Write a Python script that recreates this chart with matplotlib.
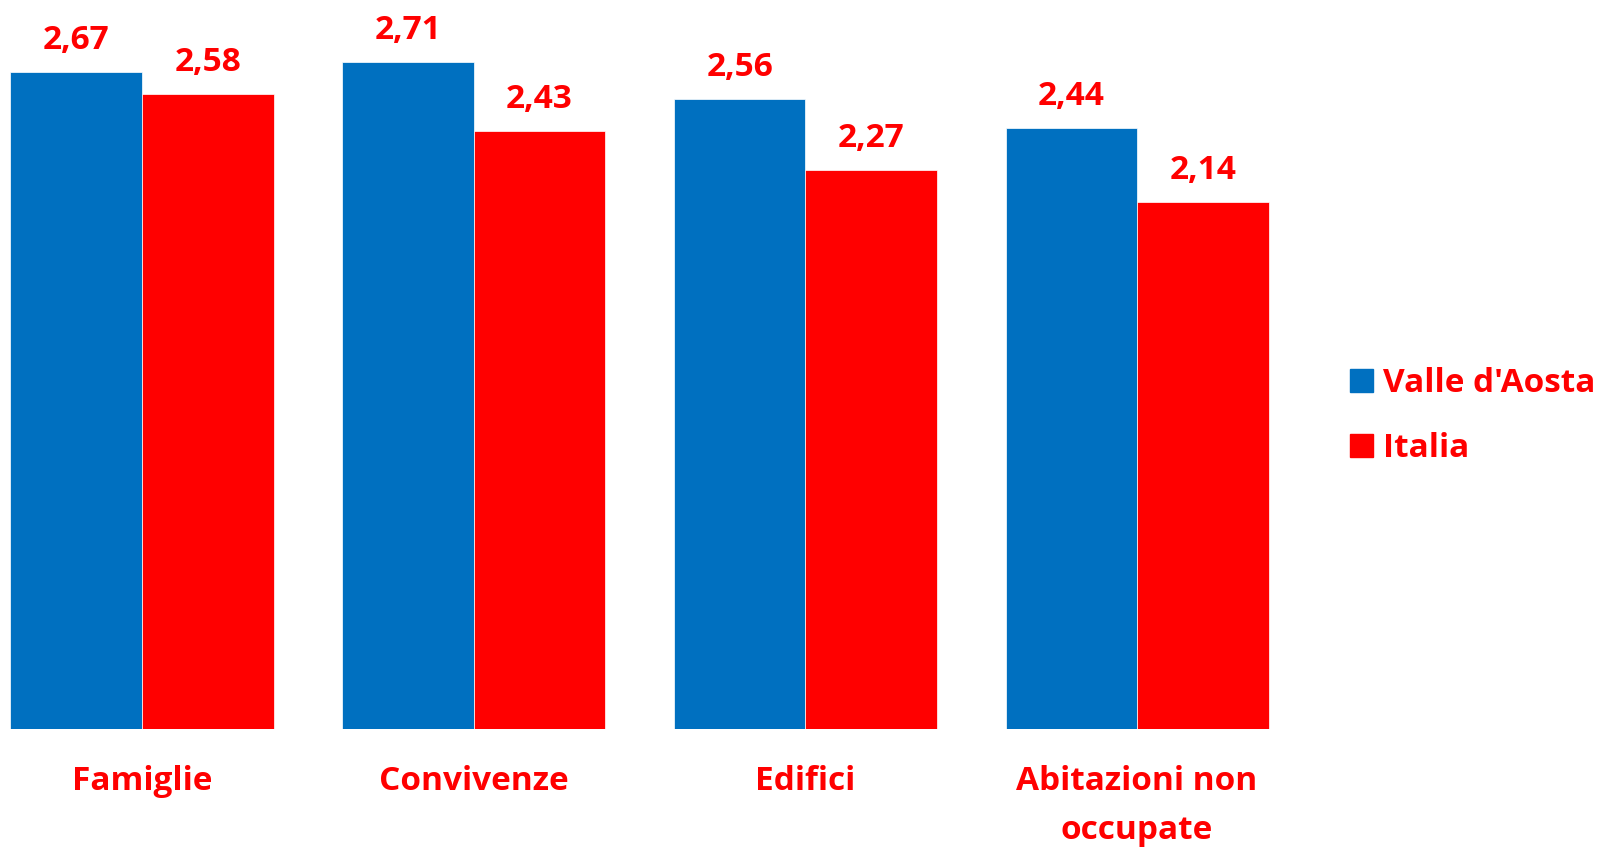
import numpy as np
import matplotlib
matplotlib.use("Agg")
from matplotlib import pyplot as plt
from matplotlib.patches import Patch

categories = ["Famiglie", "Convivenze", "Edifici", "Abitazioni non\noccupate"]
valle = [2.67, 2.71, 2.56, 2.44]
italia = [2.58, 2.43, 2.27, 2.14]
series_names = ["Valle d'Aosta", "Italia"]

blue = "#0070C0"
red = "#FF0000"

plt.rcParams['font.family'] = ['Open Sans', 'DejaVu Sans']

fig = plt.figure(figsize=(16.03, 8.48), dpi=100)
ax = fig.add_axes([0, 0.1407, 1290 / 1603, 0.8593])

x = np.arange(len(categories))
w = 0.3965
b1 = ax.bar(x - w / 2, valle, w, color=blue, edgecolor="white", linewidth=0.5)
b2 = ax.bar(x + w / 2, italia, w, color=red, edgecolor="white", linewidth=0.5)

def fmt(v):
    return "{:.2f}".format(v).replace(".", ",")

for bars, vals in [(b1, valle), (b2, italia)]:
    for rect, v in zip(bars, vals):
        ax.annotate(fmt(v), (rect.get_x() + rect.get_width() / 2, v),
                    xytext=(0, 11), textcoords="offset points",
                    ha="center", va="bottom", color=red,
                    fontsize=24, fontweight="bold")

ax.set_xlim(-142 / 331.7, (1290 - 142) / 331.7)
ax.set_ylim(0, 2.962)
ax.set_xticks(x, categories)
ax.tick_params(axis="x", length=0, pad=26, labelsize=24, labelcolor=red)
for t in ax.get_xticklabels():
    t.set_fontweight("bold")
    t.set_linespacing(1.65)
ax.set_yticks([])
for s in ax.spines.values():
    s.set_visible(False)

handles = [Patch(color=blue), Patch(color=red)]
leg = fig.legend(handles, series_names, loc="center left",
                 bbox_to_anchor=(1350 / 1603, 1 - 416 / 848),
                 frameon=False, fontsize=24, labelcolor=red,
                 handlelength=0.7, handleheight=0.7, handletextpad=0.3,
                 labelspacing=0.97, borderaxespad=0, borderpad=0)
for t in leg.get_texts():
    t.set_fontweight("bold")

fig.savefig("out.png", dpi=100)
